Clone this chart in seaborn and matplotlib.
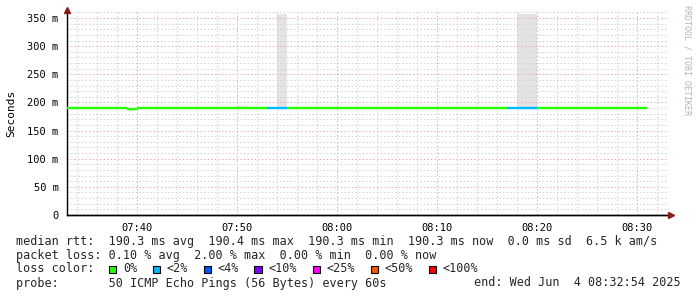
import matplotlib
matplotlib.use("Agg")
import numpy as np
import pandas as pd
import matplotlib.pyplot as plt
import seaborn as sns
from matplotlib.patches import Rectangle
from matplotlib.ticker import FixedLocator, MultipleLocator, FuncFormatter

# ---------------- data ----------------
# one sample per minute, minutes after 07:00 (first = 07:33, last = 08:30)
minutes = [33, 34, 35, 36, 37, 38, 39, 40, 41, 42, 43, 44, 45, 46, 47, 48, 49, 50,
           51, 52, 53, 54, 55, 56, 57, 58, 59, 60, 61, 62, 63, 64, 65, 66, 67, 68,
           69, 70, 71, 72, 73, 74, 75, 76, 77, 78, 79, 80, 81, 82, 83, 84, 85, 86,
           87, 88, 89, 90]
median_ms = [190.3, 190.3, 190.3, 190.3, 190.3, 190.3, 188.6, 190.3, 190.3, 190.3,
             190.3, 190.3, 190.3, 190.3, 190.3, 190.3, 190.3, 190.3, 190.3, 190.3,
             190.3, 190.3, 190.3, 190.3, 190.3, 190.3, 190.3, 190.3, 190.3, 190.3,
             190.3, 190.3, 190.3, 190.3, 190.3, 190.3, 190.3, 190.3, 190.3, 190.3,
             190.3, 190.3, 190.3, 190.3, 190.3, 190.3, 190.3, 190.3, 190.3, 190.3,
             190.3, 190.3, 190.3, 190.3, 190.3, 190.3, 190.3, 190.3]
smoke_max_ms = [190.3, 190.3, 190.3, 190.3, 190.3, 190.3, 190.3, 190.3, 190.3, 190.3,
                190.3, 190.3, 190.3, 190.3, 190.3, 190.3, 190.3, 193.0, 190.3, 190.3,
                190.3, 357.0, 190.3, 190.3, 190.3, 190.3, 190.3, 190.3, 190.3, 190.3,
                190.3, 190.3, 190.3, 192.5, 190.3, 190.3, 190.3, 190.3, 190.3, 192.5,
                192.5, 192.5, 190.3, 192.0, 190.3, 357.0, 357.0, 190.3, 190.3, 190.3,
                190.3, 192.5, 192.5, 190.3, 190.3, 190.3, 190.3, 192.5]
lost_pings = [0, 0, 0, 0, 0, 0, 0, 0, 0, 0, 0, 0, 0, 0, 0, 0, 0, 0, 0, 0,
              1, 1, 0, 0, 0, 0, 0, 0, 0, 0, 0, 0, 0, 0, 0, 0, 0, 0, 0, 0,
              0, 0, 0, 0, 1, 1, 1, 0, 0, 0, 0, 0, 0, 0, 0, 0, 0, 0]

loss_labels = ["0%", "<2%", "<4%", "<10%", "<25%", "<50%", "<100%"]
loss_colors = ["#26ff00", "#00b8ff", "#0059ff", "#7e00ff", "#ff00ff", "#ff5500", "#ff0000"]

x_tick_minutes = [40, 50, 60, 70, 80, 90]
x_tick_labels = ["07:40", "07:50", "08:00", "08:10", "08:20", "08:30"]
y_ticks_ms = [0, 50, 100, 150, 200, 250, 300, 350]

legend_rtt = "median rtt:  190.3 ms avg  190.4 ms max  190.3 ms min  190.3 ms now  0.0 ms sd  6.5 k am/s"
legend_loss = "packet loss: 0.10 % avg  2.00 % max  0.00 % min  0.00 % now"
legend_color = "loss color:"
legend_probe = "probe:       50 ICMP Echo Pings (56 Bytes) every 60s"
legend_end = "end: Wed Jun  4 08:32:54 2025"
watermark = "RRDTOOL / TOBI OETIKER"

# ---------------- figure ----------------
sns.set_theme(style="white")
plt.rcParams["font.family"] = ["DejaVu Sans Mono", "DejaVu Sans"]
MONO = "DejaVu Sans Mono"

W, H = 697, 297
fig = plt.figure(figsize=(W / 100, H / 100), dpi=100)
fig.patch.set_facecolor("white")
ax = fig.add_axes([67 / W, (H - 215) / H, 600 / W, (215 - 12.4) / H])
ax.set_facecolor("white")

# smoke (gray band) between median and max
edges = minutes + [minutes[-1] + 1]
ax.fill_between(edges, median_ms + [median_ms[-1]], smoke_max_ms + [smoke_max_ms[-1]],
                step="post", color="#e3e3e3", linewidth=0, zorder=0.3)

# median line, each minute coloured by loss
def loss_bucket(n):
    pct = n / 50 * 100
    if pct == 0:
        return loss_labels[0]
    bounds = [2, 4, 10, 25, 50, 100]
    for b, lab in zip(bounds, loss_labels[1:]):
        if pct <= b:
            return lab
    return loss_labels[-1]

rows = []
for i, (t, m, l) in enumerate(zip(minutes, median_ms, lost_pings)):
    lab = loss_bucket(l)
    rows.append({"t": t, "v": m, "seg": i, "loss": lab})
    rows.append({"t": t + 1, "v": m, "seg": i, "loss": lab})
df = pd.DataFrame(rows)
pal = dict(zip(loss_labels, loss_colors))
sns.lineplot(data=df, x="t", y="v", hue="loss", units="seg", estimator=None,
             palette=pal, linewidth=1.7, legend=False, ax=ax, zorder=3,
             solid_capstyle="butt")

# axes
ax.set_xlim(33, 93)
ax.set_ylim(0, 360)
ax.xaxis.set_major_locator(FixedLocator(x_tick_minutes))
ax.set_xticklabels(x_tick_labels)
ax.xaxis.set_minor_locator(MultipleLocator(2))
ax.yaxis.set_major_locator(FixedLocator(y_ticks_ms))
ax.yaxis.set_major_formatter(FuncFormatter(lambda v, p: "0" if v == 0 else f"{v:.0f} m"))
ax.yaxis.set_minor_locator(MultipleLocator(10))
ax.set_xlabel("")
ax.set_ylabel("")

ax.set_axisbelow(True)
ax.grid(which="minor", color="#d2d2d2", linestyle=(0, (1.4, 2.2)), linewidth=0.72)
ax.grid(which="major", color="#eaa8a8", linestyle=(0, (1.4, 2.2)), linewidth=0.72)

for s in ["top", "right"]:
    ax.spines[s].set_visible(False)
for s in ["left", "bottom"]:
    ax.spines[s].set_visible(True)
    ax.spines[s].set_color("black")
    ax.spines[s].set_linewidth(1.0)

ax.tick_params(axis="both", which="major", direction="out", length=3, width=1,
               colors="black", labelsize=7.5, pad=3)
ax.tick_params(axis="x", which="major", colors="#e59a9a", labelcolor="black", length=3, width=0.8)
ax.tick_params(axis="both", which="minor", length=0)
for lab in ax.get_xticklabels() + ax.get_yticklabels():
    lab.set_fontfamily(MONO)

# axis arrows
ax.plot([0], [1.0 + 2 / 203], marker="^", color="#8b1a1a", markersize=5,
        transform=ax.transAxes, clip_on=False, zorder=5)
ax.plot([0, 0], [1.0, 1.0 + 2 / 203], color="black", lw=1.0, transform=ax.transAxes,
        clip_on=False, zorder=4)
ax.plot([1.0 + 4 / 600], [0], marker=">", color="#8b1a1a", markersize=5,
        transform=ax.transAxes, clip_on=False, zorder=5)
ax.plot([0, 1.0 + 4 / 600], [0, 0], color="black", lw=1.0, transform=ax.transAxes,
        clip_on=False, zorder=4)

# y label and watermark
fig.text(11 / W, 1 - 113 / H, "Seconds", rotation=90, ha="center", va="center",
         fontsize=8, family=MONO, color="black")
fig.text(687 / W, 1 - 5 / H, watermark, rotation=270, ha="center", va="top",
         fontsize=6, family=MONO, color="#b4b4b4")

# legend text
FS = 8.5
def fy(py):
    return 1 - py / H
fig.text(16 / W, fy(241), legend_rtt, ha="left", va="center", fontsize=FS, family=MONO)
fig.text(16 / W, fy(255), legend_loss, ha="left", va="center", fontsize=FS, family=MONO)
fig.text(16 / W, fy(269), legend_color, ha="left", va="center", fontsize=FS, family=MONO)
fig.text(16 / W, fy(283), legend_probe, ha="left", va="center", fontsize=FS, family=MONO)
fig.text(681 / W, fy(283), legend_end, ha="right", va="center", fontsize=FS, family=MONO)

# measure char width for swatch layout
renderer = fig.canvas.get_renderer()
probe_t = fig.text(0, 0, "M" * 20, fontsize=FS, family=MONO)
cw = probe_t.get_window_extent(renderer).width / 20
probe_t.remove()

sx = 109.0
sw = 7.0
for lab, col in zip(loss_labels, loss_colors):
    fig.patches.append(Rectangle((sx / W, fy(269) - (sw / 2) / H), sw / W, sw / H,
                                 transform=fig.transFigure, facecolor=col,
                                 edgecolor="black", linewidth=0.8))
    tx = sx + 14
    fig.text(tx / W, fy(269), lab, ha="left", va="center", fontsize=FS, family=MONO)
    sx = tx + len(lab) * cw + 15.5

fig.savefig("out.png", dpi=100, facecolor="white")
